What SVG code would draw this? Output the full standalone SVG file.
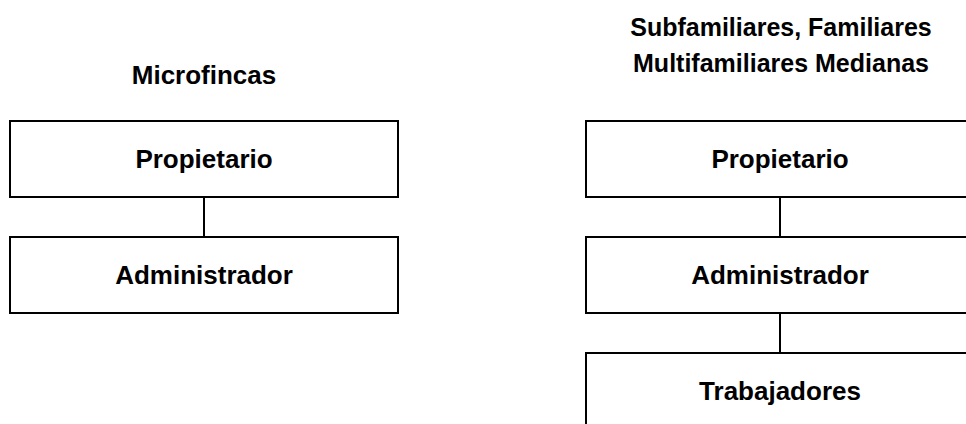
<svg xmlns="http://www.w3.org/2000/svg" width="966" height="424" viewBox="0 0 966 424">
<style>
.box{fill:#fff;stroke:#000;stroke-width:2}
.t{font-family:"Liberation Sans",Arial,sans-serif;font-weight:bold;font-size:26px;fill:#000;text-anchor:middle}
.h{font-size:25px}
.c{stroke:#000;stroke-width:2;fill:none}
</style>
<rect width="966" height="424" fill="#fff"/>
<g id="titles">
<text class="t" x="204" y="84">Microfincas</text>
<text class="t h" x="781" y="36">Subfamiliares, Familiares</text>
<text class="t h" x="781" y="72">Multifamiliares Medianas</text>
</g>
<g id="connectors">
<line class="c" x1="204" y1="197" x2="204" y2="237"/>
<line class="c" x1="780" y1="197" x2="780" y2="237"/>
<line class="c" x1="780" y1="313" x2="780" y2="353"/>
</g>
<g id="l-propietario"><rect class="box" x="10" y="121" width="388" height="76"/><text class="t" x="204" y="168">Propietario</text></g>
<g id="l-administrador"><rect class="box" x="10" y="237" width="388" height="76"/><text class="t" x="204" y="284">Administrador</text></g>
<g id="r-propietario"><rect class="box" x="586" y="121" width="400" height="76"/><text class="t" x="780" y="168">Propietario</text></g>
<g id="r-administrador"><rect class="box" x="586" y="237" width="400" height="76"/><text class="t" x="780" y="284">Administrador</text></g>
<g id="r-trabajadores"><rect class="box" x="586" y="353" width="400" height="100"/><text class="t" x="780" y="400">Trabajadores</text></g>
</svg>
